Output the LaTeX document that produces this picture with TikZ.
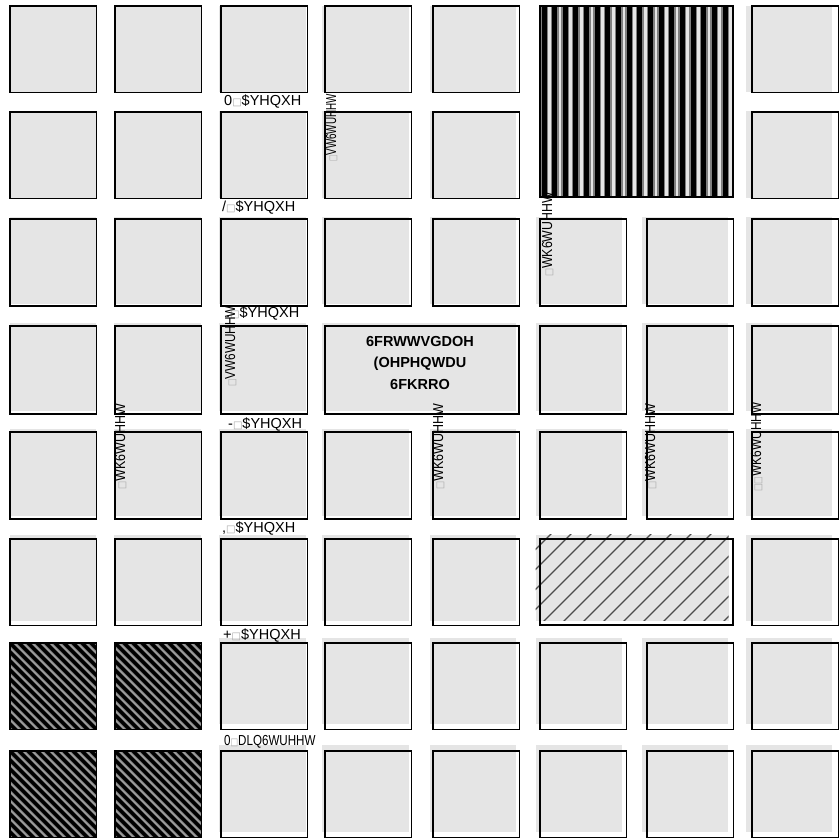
\documentclass[tikz,border=0pt]{standalone}
\usepackage{fontspec}
\setmainfont{Liberation Sans}
\newfontfamily\boxglyphfont{DejaVu Sans}
\usetikzlibrary{calc}

\tikzset{
  lot/.style={fill=black!10},
  blockedge/.style={draw=black,line width=1.1pt},
  avenue/.style={anchor=base west,inner sep=0pt,font=\fontsize{14.5}{17}\selectfont},
  street/.style={avenue,rotate=90},
  school/.style={align=center,inner sep=0pt,font=\bfseries\fontsize{14.5}{21.7}\selectfont}
}
% one block of the grid: x, y (top left), width, height
\newcommand{\cityblock}[4]{%
  \fill[lot] ($0.992*(#1,#2)$) rectangle ++(#3,#4);
  \draw[blockedge] (#1,#2) rectangle ++(#3,#4);
}
\newcommand{\sq}{{\boxglyphfont\fontsize{10}{12}\selectfont\textcolor{black!35}{□}}}

\begin{document}
\begin{tikzpicture}[x=1pt,y=-1pt]
\useasboundingbox (0,0) rectangle (838,838);

% plain blocks
\foreach \y in {6,112,539}
  \foreach \x in {10,115,221,325,433,752} {\cityblock{\x}{\y}{86.5}{86.5}}
\foreach \y in {219,432}
  \foreach \x in {10,115,221,325,433,540,647,752} {\cityblock{\x}{\y}{86.5}{87}}
\foreach \x in {10,115,221,540,647,752} {\cityblock{\x}{326}{86.5}{88}}
\foreach \y in {643,751}
  \foreach \x in {221,325,433,540,647,752} {\cityblock{\x}{\y}{86.5}{86.5}}

% school block
\cityblock{325}{326}{194}{88}

% hatched lot
\fill[lot] ($0.992*(540,539)$) coordinate (hatchnw) rectangle ++(193,86) coordinate (hatchse);
\begin{scope}
  \clip (hatchnw) rectangle (hatchse);
  \foreach \x in {425,445,...,745} \draw[black!70,line width=1.3pt] (\x,640) -- ++(110,-110);
\end{scope}
\draw[blockedge] (540,539) rectangle ++(193,86);

% striped lot
\fill[lot] (540,6) rectangle (733,197);
\foreach \x in {541.5,552.15,...,730} {
  \fill[black!50] (\x-1.5,6) rectangle ++(8,191);
  \fill[black] (\x,6) rectangle ++(5,191);
}
\draw[blockedge] (540,6) rectangle (733,197);

% dense lots bottom left
\foreach \x in {10,115}
  \foreach \y in {643,751} {
    \begin{scope}
      \clip (\x,\y) rectangle ++(86.5,86.5);
      \fill[black!55] (\x,\y) rectangle ++(86.5,86.5);
      \foreach \d in {-90,-81,...,90} {
        \draw[black,line width=3.2pt] (\x+\d,\y) -- ++(90,90);
        \draw[black!30,line width=0.7pt] (\x+\d+4.5,\y) -- ++(90,90);
      }
    \end{scope}
    \draw[blockedge] (\x,\y) rectangle ++(86.5,86.5);
  }

% avenues
\node[avenue] (aveM) at (224,105) {0\sq\$YHQXH};
\node[avenue] (aveL) at (222,211) {/\sq\$YHQXH};
\node[avenue] (aveK) at (226,317) {.\sq\$YHQXH};
\node[avenue] (aveJ) at (228,428) {-\sq\$YHQXH};
\node[avenue] (aveI) at (222,532) {,\sq\$YHQXH};
\node[avenue] (aveH) at (223,639) {+\sq\$YHQXH};
\node[avenue] (mainst) at (224,745) {\scalebox{0.8}[1]{0\sq DLQ6WUHHW}};

% streets
\node[street] (st1) at (336,162) {\scalebox{0.68}[1]{\sq VW6WUHHW}};
\node[street] (st2) at (235,387) {\scalebox{0.81}[1]{\sq VW6WUHHW}};
\node[street] (st3) at (125,490) {\scalebox{0.86}[1]{\sq WK6WUHHW}};
\node[street] (st4) at (443,490) {\scalebox{0.86}[1]{\sq WK6WUHHW}};
\node[street] (st5) at (552,277) {\scalebox{0.85}[1]{\sq WK6WUHHW}};
\node[street] (st6) at (655,490) {\scalebox{0.86}[1]{\sq WK6WUHHW}};
\node[street] (st7) at (761,492) {\scalebox{0.82}[1]{\sq\sq WK6WUHHW}};

% school name
\node[school] (school) at (420,363) {6FRWWVGDOH\\(OHPHQWDU\\6FKRRO};
\end{tikzpicture}
\end{document}
